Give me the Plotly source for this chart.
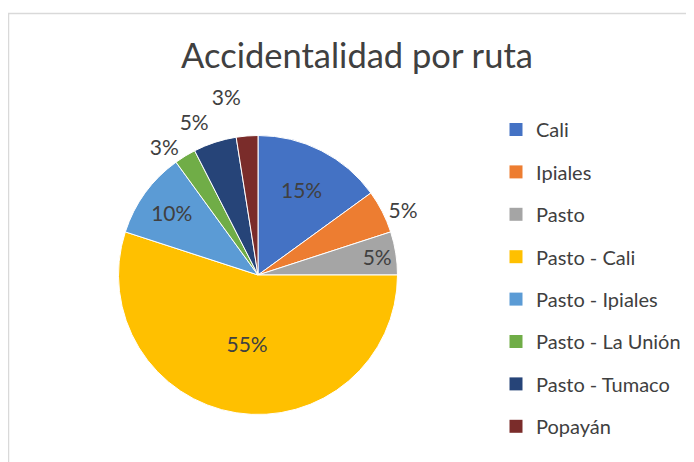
import plotly.graph_objects as go

# Data (counts read as shares of 40 accidents -> 15%, 5%, 5%, 55%, 10%, 2.5%, 5%, 2.5%)
routes = ["Cali", "Ipiales", "Pasto", "Pasto - Cali", "Pasto - Ipiales",
          "Pasto - La Unión", "Pasto - Tumaco", "Popayán"]
accidents = [6, 2, 2, 22, 4, 1, 2, 1]
label_positions = ["inside", "outside", "inside", "inside", "inside",
                   "outside", "outside", "outside"]
colors = ["#4472C4", "#ED7D31", "#A5A5A5", "#FFC000", "#5B9BD5",
          "#70AD47", "#264478", "#7A2C2A"]

TEXT = "#404040"
FONT = "Lato"
W, H = 686, 454   # page body has an 8px margin
OFF = 8

fig = go.Figure()

fig.add_trace(go.Pie(
    labels=routes,
    values=accidents,
    sort=False,
    direction="clockwise",
    rotation=0,
    marker=dict(colors=colors, line=dict(color="white", width=1)),
    texttemplate="%{percent:.0%}",
    textposition=label_positions,
    insidetextorientation="horizontal",
    textfont=dict(family=FONT, size=21, color=TEXT),
    showlegend=False,
    domain=dict(x=[(118.5 - OFF) / W, (397.5 - OFF) / W],
                y=[(H - (414.5 - OFF)) / H, (H - (135.5 - OFF)) / H]),
))

# legend entries (one group each so the spacing can match the original)
for name, col in zip(routes, colors):
    fig.add_trace(go.Scatter(
        x=[None], y=[None], mode="markers", name=name,
        legendgroup=name,
        marker=dict(symbol="square", size=13, color=col),
        hoverinfo="skip",
    ))

fig.update_layout(
    width=W, height=H,
    margin=dict(l=0, r=0, t=0, b=0),
    paper_bgcolor="white",
    plot_bgcolor="white",
    xaxis=dict(visible=False),
    yaxis=dict(visible=False),
    title=dict(text="Accidentalidad por ruta", x=(357 - OFF) / W, xanchor="center",
               xref="container", yref="container", y=1 - (56 - OFF) / H, yanchor="middle",
               font=dict(family=FONT, size=34.5, color=TEXT)),
    legend=dict(x=(496 - OFF) / W, xanchor="left", y=1 - (110 - OFF) / H, yanchor="top",
                font=dict(family=FONT, size=20, color=TEXT),
                tracegroupgap=13.4, bgcolor="rgba(0,0,0,0)"),
    shapes=[dict(type="rect", xref="paper", yref="paper",
                 x0=(8.5 - OFF) / W, x1=1.2, y0=-0.2, y1=1 - (13.5 - OFF) / H,
                 line=dict(color="#D9D9D9", width=1.5), layer="below")],
    uniformtext=dict(minsize=21, mode="show"),
)

hide_lines = ("var s=document.createElement('style');"
              "s.textContent='.textline{display:none !important}';"
              "document.head.appendChild(s);")
fig.write_html("out.html", post_script=hide_lines)
